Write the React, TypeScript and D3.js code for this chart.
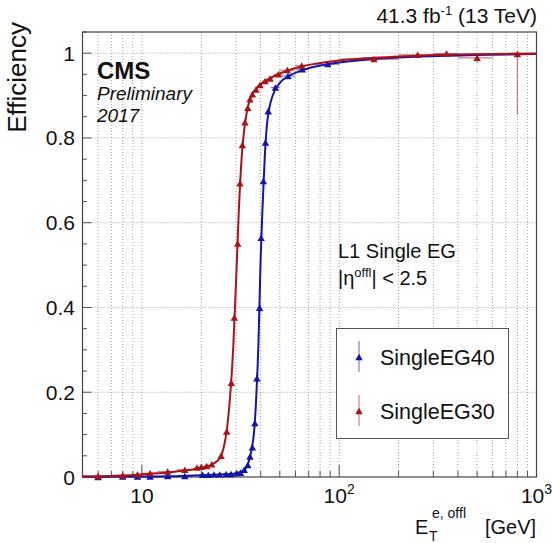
import React from "react";
import * as d3 from "d3";

const W = 552;
const H = 543;
const FONT = "'Liberation Sans', Arial, Helvetica, sans-serif";

// SingleEG30 (red) measured points
const eg30X = [6, 8, 9.5, 11, 13.5, 16.5, 19, 20, 21.3, 22.6, 25.2, 26.9, 28.4, 29.4, 30.6, 31.4, 32.3, 33.3, 34.4, 35.3, 36.3, 37.9, 39.7, 42.1, 44.6, 49.1, 54.6, 64.6, 150, 250, 350, 500, 800];
const eg30Y = [0.002, 0.004, 0.006, 0.009, 0.013, 0.017, 0.022, 0.024, 0.026, 0.03, 0.05, 0.107, 0.222, 0.376, 0.551, 0.693, 0.783, 0.837, 0.871, 0.891, 0.903, 0.914, 0.925, 0.934, 0.94, 0.95, 0.96, 0.971, 0.986, 0.996, 0.999, 0.989, 0.998];
const eg30XErr = [1, 1, 0.5, 1, 1.5, 1.5, 0.5, 0.5, 0.5, 0.5, 0.5, 0.5, 0.5, 0.5, 0.5, 0.5, 0.5, 0.5, 0.5, 0.5, 0.5, 1, 1, 1.5, 1.5, 2.5, 5, 5, 50, 50, 50, 100, 200];
const eg30YErrLo = [0.001, 0.001, 0.001, 0.002, 0.002, 0.002, 0.003, 0.003, 0.003, 0.004, 0.006, 0.008, 0.01, 0.012, 0.012, 0.012, 0.01, 0.008, 0.008, 0.007, 0.007, 0.006, 0.006, 0.005, 0.005, 0.004, 0.004, 0.004, 0.006, 0.006, 0.005, 0.012, 0.143];
const eg30YErrHi = [0.001, 0.001, 0.001, 0.002, 0.002, 0.002, 0.003, 0.003, 0.003, 0.004, 0.006, 0.008, 0.01, 0.012, 0.012, 0.012, 0.01, 0.008, 0.008, 0.007, 0.007, 0.006, 0.006, 0.005, 0.005, 0.004, 0.004, 0.004, 0.005, 0.003, 0.001, 0.008, 0.002];

// SingleEG40 (blue) measured points
const eg40X = [6, 8, 9.5, 11, 13.5, 16.5, 20.3, 21.7, 23.2, 24.8, 26.7, 28.3, 30.2, 31.6, 33, 34.4, 35.3, 36.3, 37.4, 38.3, 39.5, 40.2, 41.3, 42.3, 43.7, 47.5, 55, 65, 87.5];
const eg40Y = [0.0, 0.001, 0.001, 0.001, 0.002, 0.002, 0.005, 0.005, 0.006, 0.006, 0.007, 0.007, 0.009, 0.01, 0.017, 0.028, 0.048, 0.07, 0.127, 0.233, 0.399, 0.564, 0.698, 0.789, 0.863, 0.919, 0.946, 0.962, 0.974];
const eg40XErr = [1, 1, 0.5, 1, 1.5, 1.5, 0.5, 0.5, 0.5, 0.5, 0.5, 0.5, 0.5, 0.5, 0.5, 0.5, 0.5, 0.5, 0.5, 0.5, 0.5, 0.5, 0.5, 0.5, 1, 2.5, 5, 5, 12.5];
const eg40YErr = [0.001, 0.001, 0.001, 0.001, 0.001, 0.001, 0.002, 0.002, 0.002, 0.002, 0.002, 0.002, 0.003, 0.003, 0.004, 0.005, 0.006, 0.008, 0.01, 0.012, 0.013, 0.013, 0.012, 0.01, 0.009, 0.007, 0.006, 0.006, 0.005];

// fitted turn-on curves
const fit30X = [5, 10, 15, 20, 22, 24, 25, 26, 27, 28, 29, 30, 31, 32, 33, 34, 35, 36, 38, 40, 45, 50, 60, 80, 100, 200, 400, 1000];
const fit30Y = [0.001, 0.006, 0.013, 0.022, 0.027, 0.037, 0.047, 0.07, 0.115, 0.19, 0.3, 0.46, 0.63, 0.75, 0.82, 0.86, 0.885, 0.9, 0.917, 0.927, 0.942, 0.952, 0.965, 0.977, 0.983, 0.992, 0.997, 0.999];
const fit40X = [5, 10, 15, 20, 25, 28, 30, 32, 33, 34, 35, 36, 37, 38, 39, 40, 41, 42, 43, 44, 46, 50, 55, 65, 85, 100, 200, 1000];
const fit40Y = [0.0005, 0.001, 0.002, 0.004, 0.006, 0.007, 0.009, 0.013, 0.017, 0.024, 0.04, 0.065, 0.105, 0.19, 0.32, 0.52, 0.65, 0.76, 0.83, 0.865, 0.9, 0.93, 0.945, 0.96, 0.973, 0.978, 0.99, 0.998];

const yTickLabels = ["0", "0.2", "0.4", "0.6", "0.8", "1"];

const RED = "#a8141a";
const BLUE = "#1414a8";

const x = d3.scaleLog().domain([5, 1000]).range([82.5, 536.5]);
const y = d3.scaleLinear().domain([0, 1.05]).range([477, 32]);

const line = d3
  .line<[number, number]>()
  .x((d) => x(d[0]))
  .y((d) => y(d[1]))
  .curve(d3.curveMonotoneX);

const tri = d3.symbol(d3.symbolTriangle, 24)();

function Series(props: {
  xs: number[];
  ys: number[];
  xe: number[];
  lo: number[];
  hi: number[];
  color: string;
}) {
  const { xs, ys, xe, lo, hi, color } = props;
  return (
    <g>
      <g stroke={color} strokeOpacity={0.55} strokeWidth={1.2}>
        {xs.map((v, i) => (
          <g key={i}>
            <line x1={x(v - xe[i])} x2={x(v + xe[i])} y1={y(ys[i])} y2={y(ys[i])} />
            <line x1={x(v)} x2={x(v)} y1={y(ys[i] - lo[i])} y2={y(Math.min(ys[i] + hi[i], 1.05))} />
          </g>
        ))}
      </g>
      <g fill={color}>
        {xs.map((v, i) => (
          <path key={i} d={tri} transform={`translate(${x(v)},${y(ys[i]) + 1})`} />
        ))}
      </g>
    </g>
  );
}

export default function App() {
  const [x0, x1] = x.range();
  const [yb, yt] = y.range();
  const gridX = x.ticks().filter((t) => t > 5 && t < 1000);
  const gridY = y.ticks(6).filter((t) => t > 0 && t < 1.05);
  const minorY = y.ticks(21);
  const majorX = [10, 100, 1000];
  const fit30 = fit30X.map((v, i) => [v, fit30Y[i]] as [number, number]);
  const fit40 = fit40X.map((v, i) => [v, fit40Y[i]] as [number, number]);
  const yMajor = y.ticks(6);

  return (
    <svg
      width={W}
      height={H}
      style={{ position: "absolute", left: 0, top: 0, background: "#fff" }}
      fontFamily={FONT}
    >
      <rect x={0} y={0} width={W} height={H} fill="#fff" />

      {/* grid */}
      <g stroke="#a0a0a0" strokeWidth={1} strokeDasharray="1,2">
        {gridX.map((t) => (
          <line key={t} x1={x(t)} x2={x(t)} y1={yb} y2={yt} />
        ))}
        {gridY.map((t) => (
          <line key={t} x1={x0} x2={x1} y1={y(t)} y2={y(t)} />
        ))}
      </g>

      {/* ticks */}
      <g stroke="#555" strokeWidth={1}>
        {minorY.map((t, i) => (
          <line key={"y" + i} x1={x0} x2={x0 + (i % 4 === 0 ? 9 : 4.5)} y1={y(t)} y2={y(t)} />
        ))}
        {x.ticks().map((t, i) => (
          <line key={"x" + i} x1={x(t)} x2={x(t)} y1={yb} y2={yb - (majorX.includes(t) ? 12 : 6)} />
        ))}
      </g>

      {/* frame */}
      <rect x={x0} y={yt} width={x1 - x0} height={yb - yt} fill="none" stroke="#444" strokeWidth={1.2} />

      {/* y tick labels */}
      <g fontSize={21} fill="#111" textAnchor="end">
        {yMajor.map((t, i) => (
          <text key={i} x={75} y={y(t) + 7.5}>
            {yTickLabels[i]}
          </text>
        ))}
      </g>

      {/* x tick labels */}
      <g fontSize={21} fill="#111" textAnchor="middle">
        {majorX.map((t) => {
          const e = Math.round(Math.log10(t));
          return (
            <text key={t} x={x(t)} y={503}>
              <tspan>10</tspan>
              {e > 1 && (
                <tspan fontSize={14} dy={-9}>
                  {e}
                </tspan>
              )}
            </text>
          );
        })}
      </g>

      {/* curves and points */}
      <path d={line(fit40) ?? ""} fill="none" stroke={BLUE} strokeWidth={2} />
      <Series xs={eg40X} ys={eg40Y} xe={eg40XErr} lo={eg40YErr} hi={eg40YErr} color={BLUE} />
      <path d={line(fit30) ?? ""} fill="none" stroke={RED} strokeWidth={2} />
      <Series xs={eg30X} ys={eg30Y} xe={eg30XErr} lo={eg30YErrLo} hi={eg30YErrHi} color={RED} />

      {/* header */}
      <text x={537} y={23} fontSize={21} textAnchor="end" fill="#111">
        41.3 fb
        <tspan fontSize={13} dy={-8}>-1</tspan>
        <tspan dy={8}> (13 TeV)</tspan>
      </text>
      <text x={97} y={79} fontSize={24} fontWeight="bold" fill="#111">
        CMS
      </text>
      <text x={97} y={100} fontSize={19} fontStyle="italic" fill="#111">
        Preliminary
      </text>
      <text x={97} y={122} fontSize={19} fontStyle="italic" fill="#111">
        2017
      </text>

      {/* axis titles */}
      <text
        transform={`translate(26,22) rotate(-90)`}
        textAnchor="end"
        fontSize={26}
        fill="#111"
      >
        Efficiency
      </text>
      <g fill="#111">
        <text x={415} y={534} fontSize={20}>E</text>
        <text x={429} y={541} fontSize={14}>T</text>
        <text x={432} y={518} fontSize={14}>e, offl</text>
        <text x={485} y={534} fontSize={20}>[GeV]</text>
      </g>

      {/* selection text */}
      <g fill="#111" fontSize={20}>
        <text x={338} y={258}>L1 Single EG</text>
        <text x={338} y={285}>
          |η<tspan fontSize={13} dy={-8}>offl</tspan>
          <tspan dy={8}>| &lt; 2.5</tspan>
        </text>
      </g>

      {/* legend */}
      <rect x={336.5} y={328.5} width={172} height={110} fill="#fff" stroke="#555" strokeWidth={1} />
      {[
        { name: "SingleEG40", color: BLUE, cy: 357 },
        { name: "SingleEG30", color: RED, cy: 411 },
      ].map((d) => (
        <g key={d.name}>
          <line x1={359} x2={359} y1={d.cy - 16} y2={d.cy + 15} stroke={d.color} strokeOpacity={0.55} strokeWidth={1.2} />
          <path d={tri} transform={`translate(359,${d.cy + 1})`} fill={d.color} />
          <text x={380} y={d.cy + 8} fontSize={21.5} fill="#111">
            {d.name}
          </text>
        </g>
      ))}
    </svg>
  );
}
